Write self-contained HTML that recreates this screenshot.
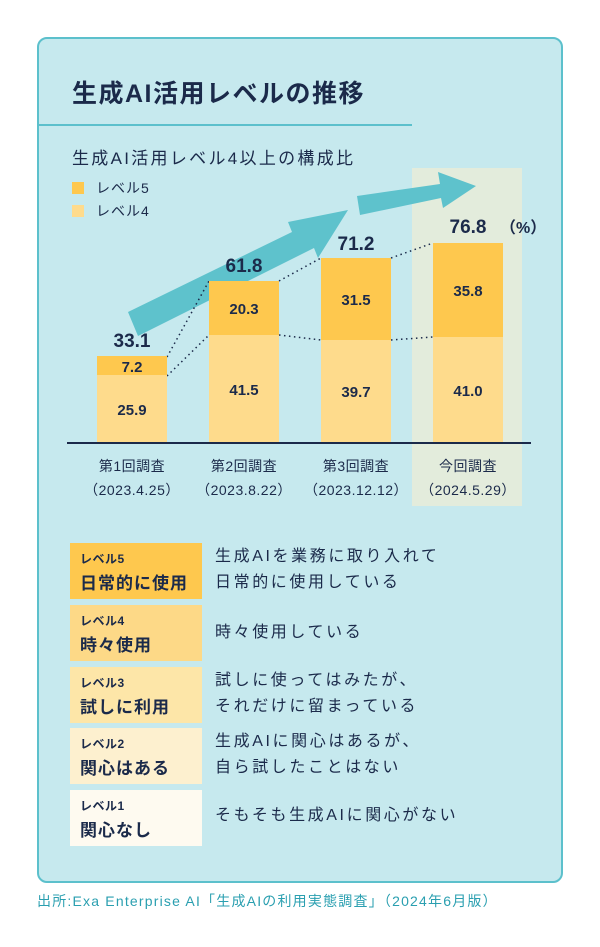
<!DOCTYPE html>
<html><head><meta charset="utf-8"><style>
body{margin:0;width:600px;height:947px;background:#fff;font-family:"Liberation Sans","Noto Sans CJK JP",sans-serif;color:#1b2a4a;position:relative;overflow:hidden}
.card{position:absolute;left:37px;top:37px;width:522px;height:842px;border:2px solid #5cc0cc;border-radius:10px;background:#c6e9ee}
.a{position:absolute;white-space:nowrap}
.row{position:absolute;left:70px;width:132px;height:56px}
.row .l1{position:absolute;left:10px;top:7px;font-size:12px;font-weight:bold;letter-spacing:0.5px}
.row .l2{position:absolute;left:10px;top:26px;font-size:17px;font-weight:bold;letter-spacing:1px}
.d{position:absolute;left:215px;font-size:16px;line-height:26px;letter-spacing:2.6px}
</style></head><body>
<div class="card"></div>
<div class="a" style="left:72px;top:74px;font-size:25px;font-weight:bold;letter-spacing:1.5px">生成AI活用レベルの推移</div>
<div class="a" style="left:37px;top:124px;width:375px;height:2px;background:#5cc0cc"></div>
<div class="a" style="left:72px;top:144px;font-size:17px;letter-spacing:2.3px">生成AI活用レベル4以上の構成比</div>
<svg class="a" style="left:0;top:0" width="600" height="530">
<rect x="412" y="168" width="110" height="338" fill="#e3ecdc"/>
<rect x="72" y="182" width="12" height="12" fill="#fec84e"/>
<rect x="72" y="205" width="12" height="12" fill="#fedb8c"/>
<text x="96" y="193" font-size="14" fill="#1b2a4a" letter-spacing="1">レベル5</text>
<text x="96" y="216" font-size="14" fill="#1b2a4a" letter-spacing="1">レベル4</text>
<g fill="#5ec2cc">
<polygon points="128,312 292,232 288,222 348,210 318,258 314,248 138,336"/>
<polygon points="357,196 440,184 438,172 476,186 443,208 441,198 360,215"/>
</g>
<g stroke="#1b2a4a" stroke-width="1.5" stroke-dasharray="1.5,3.5" fill="none">
<line x1="167" y1="357" x2="209" y2="281"/><line x1="167" y1="376" x2="209" y2="335"/>
<line x1="279" y1="281" x2="321" y2="258"/><line x1="279" y1="335" x2="321" y2="340"/>
<line x1="391" y1="258" x2="433" y2="243"/><line x1="391" y1="340" x2="433" y2="337"/>
</g>
<g>
<rect x="97" y="375" width="70" height="68" fill="#fedb8c"/><rect x="97" y="356" width="70" height="19" fill="#fec84e"/>
<rect x="209" y="335" width="70" height="108" fill="#fedb8c"/><rect x="209" y="281" width="70" height="54" fill="#fec84e"/>
<rect x="321" y="340" width="70" height="103" fill="#fedb8c"/><rect x="321" y="258" width="70" height="82" fill="#fec84e"/>
<rect x="433" y="337" width="70" height="106" fill="#fedb8c"/><rect x="433" y="243" width="70" height="94" fill="#fec84e"/>
</g>
<line x1="67" y1="443" x2="531" y2="443" stroke="#1b2a4a" stroke-width="2"/>
<g font-size="15" fill="#1b2a4a" text-anchor="middle" font-weight="bold">
<text x="132" y="372">7.2</text><text x="132" y="415">25.9</text>
<text x="244" y="314">20.3</text><text x="244" y="395">41.5</text>
<text x="356" y="305">31.5</text><text x="356" y="397">39.7</text>
<text x="468" y="296">35.8</text><text x="468" y="396">41.0</text>
</g>
<g font-size="19" fill="#1b2a4a" text-anchor="middle" font-weight="bold">
<text x="132" y="347">33.1</text><text x="244" y="272">61.8</text><text x="356" y="250">71.2</text><text x="468" y="233">76.8</text>
</g>
<text x="500" y="233" font-size="16" font-weight="bold" fill="#1b2a4a">（%）</text>
<g font-size="14" fill="#1b2a4a" text-anchor="middle" letter-spacing="0.5">
<text x="132" y="471">第1回調査</text><text x="132" y="495">（2023.4.25）</text>
<text x="244" y="471">第2回調査</text><text x="244" y="495">（2023.8.22）</text>
<text x="356" y="471">第3回調査</text><text x="356" y="495">（2023.12.12）</text>
<text x="468" y="471">今回調査</text><text x="468" y="495">（2024.5.29）</text>
</g>
</svg>
<div class="row" style="top:543px;background:#fec84e"><div class="l1">レベル5</div><div class="l2">日常的に使用</div></div>
<div class="row" style="top:605px;background:#fdd987"><div class="l1">レベル4</div><div class="l2">時々使用</div></div>
<div class="row" style="top:667px;background:#fde6a8"><div class="l1">レベル3</div><div class="l2">試しに利用</div></div>
<div class="row" style="top:728px;background:#fdf0cf"><div class="l1">レベル2</div><div class="l2">関心はある</div></div>
<div class="row" style="top:790px;background:#fefaf0"><div class="l1">レベル1</div><div class="l2">関心なし</div></div>
<div class="d" style="top:544px">生成AIを業務に取り入れて<br>日常的に使用している</div>
<div class="d" style="top:620px">時々使用している</div>
<div class="d" style="top:668px">試しに使ってはみたが、<br>それだけに留まっている</div>
<div class="d" style="top:729px">生成AIに関心はあるが、<br>自ら試したことはない</div>
<div class="d" style="top:803px">そもそも生成AIに関心がない</div>
<div class="a" style="left:37px;top:891px;font-size:14px;color:#2a9fb0;letter-spacing:1.2px">出所:Exa Enterprise AI「生成AIの利用実態調査」（2024年6月版）</div>
</body></html>
